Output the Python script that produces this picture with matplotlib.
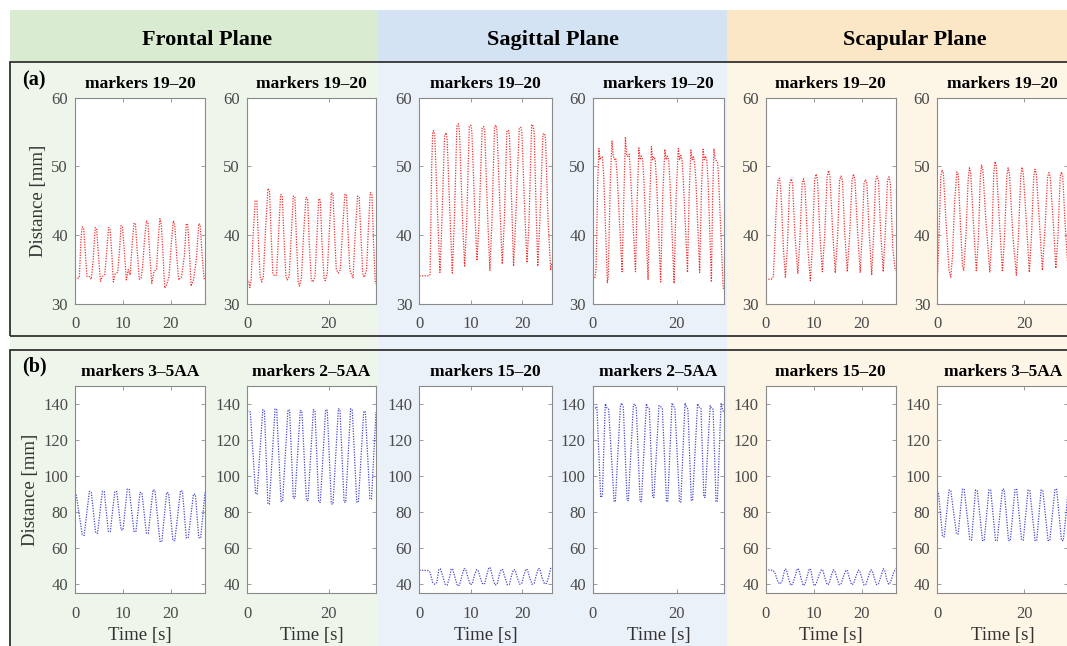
import matplotlib
matplotlib.use('Agg')
import matplotlib.pyplot as plt
from matplotlib.patches import Rectangle

plt.rcParams.update({
    'font.family': ['Liberation Serif', 'DejaVu Serif'],
    'font.size': 10.5,
    'axes.linewidth': 0.8,
    'axes.edgecolor': '#8a8a8a',
})

# ---- data: (a) row, distance markers 19-20 [mm] ----
a1_t = [0.0, 0.9, 1.25, 1.5, 1.8, 2.1, 2.5, 3.0, 3.4, 3.8, 4.2, 4.5, 4.9, 5.3, 5.7, 6.2, 6.6, 7.0, 7.3, 7.7,
        8.0, 8.4, 8.9, 9.3, 9.6, 9.9, 10.3, 10.7, 11.1, 11.5, 11.9, 12.3, 12.6, 13.0, 13.4, 13.8, 14.1, 14.5,
        14.9, 15.2, 15.6, 16.0, 16.5, 17.0, 17.4, 17.7, 18.0, 18.4, 18.7, 19.1, 19.6, 20.1, 20.5, 20.8, 21.2,
        21.6, 22.2, 22.8, 23.2, 23.5, 23.9, 24.2, 24.7, 25.3, 25.8, 26.1, 26.5, 26.9, 27.1]
a1_v = [33.7, 33.8, 39.5, 41.2, 41.1, 38.0, 34.0, 34.0, 33.6, 36.5, 41.1, 41.0, 37.0, 33.3, 34.0, 34.3, 37.5,
        41.1, 41.0, 37.0, 33.2, 34.4, 34.6, 38.0, 41.4, 41.2, 37.5, 33.5, 35.0, 34.2, 38.5, 41.8, 41.6, 37.5,
        33.6, 33.8, 35.5, 39.5, 42.1, 41.8, 37.0, 33.0, 34.8, 35.0, 40.0, 42.4, 41.5, 36.5, 32.3, 32.8, 34.0,
        39.0, 42.1, 41.5, 37.0, 33.5, 33.9, 37.0, 41.7, 41.5, 37.0, 32.6, 33.5, 36.5, 41.7, 41.5, 37.0, 33.7, 33.7]

a2_t = [0.0, 0.4, 0.7, 1.0, 1.5, 2.0, 2.4, 2.8, 3.2, 3.6, 4.0, 4.5, 5.1, 5.5, 5.9, 6.3, 6.7, 7.2, 7.7, 8.2,
        8.6, 9.0, 9.5, 9.8, 10.3, 10.8, 11.3, 11.7, 12.1, 12.5, 12.8, 13.3, 13.8, 14.4, 14.8, 15.2, 15.7,
        16.1, 16.6, 17.1, 17.5, 17.9, 18.3, 18.8, 19.1, 19.6, 20.1, 20.6, 21.0, 21.4, 21.8, 22.3, 22.8, 23.3,
        23.9, 24.3, 24.7, 25.1, 25.5, 25.9, 26.4, 27.0, 27.4, 27.8, 28.3, 28.7, 29.2, 29.6, 30.1, 30.5, 30.9,
        31.3, 31.5]
a2_v = [33.5, 33.4, 32.4, 33.5, 40.0, 45.0, 45.0, 39.0, 34.0, 33.2, 34.0, 40.5, 46.8, 46.5, 40.0, 34.5, 34.1,
        34.2, 40.0, 45.9, 45.8, 40.0, 34.0, 33.5, 34.0, 40.0, 45.7, 45.6, 39.0, 33.3, 32.6, 33.8, 40.0, 45.5,
        45.3, 39.0, 33.5, 33.2, 34.0, 40.0, 45.3, 45.1, 39.0, 33.8, 33.4, 34.5, 40.5, 46.2, 46.0, 40.0, 35.0,
        34.5, 35.0, 40.5, 46.0, 45.8, 40.0, 35.0, 34.3, 33.8, 40.0, 45.7, 45.5, 40.0, 34.2, 33.9, 35.0, 40.5,
        46.2, 46.0, 39.0, 33.3, 32.9]

a3_t = [0.0, 1.9, 2.1, 2.4, 2.6, 2.8, 3.0, 3.6, 4.0, 4.3, 4.9, 5.2, 5.4, 6.0, 6.4, 6.8, 7.3, 7.6, 7.8, 8.4,
        8.8, 9.2, 9.7, 10.0, 10.2, 10.8, 11.2, 11.6, 12.2, 12.5, 12.7, 13.3, 13.7, 14.1, 14.6, 14.9, 15.1,
        15.7, 16.1, 16.5, 17.0, 17.3, 17.5, 18.0, 18.3, 18.7, 19.4, 19.7, 19.9, 20.5, 20.9, 21.3, 21.8, 22.0,
        22.3, 22.7, 23.0, 23.4, 24.0, 24.3, 24.5, 25.0, 25.5, 25.7]
a3_v = [34.1, 34.1, 34.3, 50.0, 55.0, 55.2, 54.5, 42.0, 34.6, 40.0, 54.5, 54.9, 54.0, 42.0, 34.5, 42.0, 56.0,
        56.2, 55.0, 42.0, 35.4, 42.0, 55.8, 56.0, 55.0, 43.0, 36.3, 42.0, 55.6, 55.8, 55.0, 42.0, 34.9, 42.0,
        55.8, 56.0, 55.0, 43.0, 35.8, 42.0, 55.1, 55.3, 54.5, 43.0, 35.5, 42.0, 55.5, 55.7, 55.0, 43.0, 36.0,
        42.0, 56.0, 56.1, 55.0, 43.0, 35.5, 42.0, 54.7, 54.8, 54.0, 42.0, 34.9, 36.0]

a4_t = [0.0, 0.5, 0.8, 1.2, 1.5, 1.7, 2.0, 2.3, 2.6, 3.5, 3.7, 4.2, 4.6, 4.9, 5.2, 5.5, 5.8, 7.0, 7.4, 7.8,
        8.1, 8.4, 8.7, 9.0, 10.2, 10.6, 11.0, 11.3, 11.6, 11.9, 12.2, 13.2, 13.6, 14.0, 14.3, 14.6, 14.9,
        15.2, 16.2, 16.7, 17.2, 17.5, 17.8, 18.1, 18.4, 19.4, 19.9, 20.4, 20.7, 21.0, 21.3, 21.6, 22.6, 23.0,
        23.4, 23.7, 24.0, 24.3, 24.6, 25.5, 25.9, 26.3, 26.6, 26.9, 27.2, 27.5, 28.3, 28.6, 28.9, 29.2, 29.5,
        29.8, 30.1, 31.1, 31.3]
a4_v = [33.7, 33.7, 35.0, 48.0, 52.6, 51.0, 51.3, 51.4, 49.0, 33.1, 34.0, 48.0, 53.7, 51.5, 51.0, 51.2, 49.0,
        34.7, 45.0, 54.3, 51.5, 51.5, 51.8, 49.0, 34.7, 45.0, 52.7, 51.0, 51.5, 51.0, 48.0, 33.5, 45.0, 52.9,
        51.0, 51.4, 51.0, 48.0, 33.2, 46.0, 52.5, 51.0, 51.5, 51.0, 48.0, 33.0, 46.0, 52.6, 51.0, 51.6, 51.0,
        48.0, 34.6, 46.0, 52.4, 51.0, 51.4, 50.5, 48.0, 34.6, 46.0, 52.5, 51.0, 51.5, 50.8, 48.0, 33.2, 46.0,
        52.6, 51.0, 50.8, 50.5, 47.0, 32.3, 32.3]

a5_t = [0.0, 1.2, 1.6, 2.2, 2.6, 2.9, 3.2, 3.7, 4.1, 4.5, 5.0, 5.3, 5.6, 6.1, 6.7, 7.1, 7.6, 7.9, 8.2, 8.8,
        9.3, 9.7, 10.2, 10.5, 10.8, 11.3, 11.8, 12.3, 12.8, 13.1, 13.4, 14.0, 14.5, 15.0, 15.4, 15.7, 16.0,
        16.5, 17.0, 17.5, 18.0, 18.3, 18.6, 19.2, 19.7, 20.1, 20.5, 20.8, 21.1, 21.6, 22.1, 22.5, 22.9, 23.2,
        23.5, 24.0, 24.5, 24.9, 25.4, 25.7, 26.0, 26.5, 27.0, 27.1]
a5_v = [33.6, 33.6, 34.0, 44.0, 48.2, 48.3, 46.0, 38.0, 33.9, 38.0, 47.5, 48.2, 47.5, 40.0, 34.4, 39.0, 47.5,
        48.2, 47.0, 38.0, 33.4, 38.0, 48.0, 48.9, 48.0, 40.0, 34.7, 40.0, 48.5, 49.4, 48.5, 40.0, 34.5, 40.0,
        48.0, 48.6, 48.0, 40.0, 34.7, 40.0, 48.0, 48.9, 48.0, 40.0, 34.6, 40.0, 47.5, 48.1, 47.5, 40.0, 34.2,
        40.0, 48.0, 48.6, 48.0, 40.0, 34.7, 40.0, 48.0, 48.5, 47.5, 38.0, 34.9, 34.9]

a6_t = [0.0, 0.3, 0.8, 1.1, 1.4, 2.0, 2.7, 3.1, 3.5, 4.0, 4.5, 4.8, 5.3, 5.8, 6.1, 6.6, 7.1, 7.4, 7.7, 8.3,
        9.0, 9.5, 9.9, 10.2, 10.5, 11.2, 12.1, 12.6, 13.0, 13.3, 13.6, 14.3, 15.0, 15.5, 16.0, 16.3, 16.6,
        17.4, 18.2, 18.7, 19.2, 19.5, 19.8, 20.5, 21.2, 21.7, 22.2, 22.5, 22.8, 23.5, 24.2, 24.8, 25.4, 25.7,
        26.0, 26.7, 27.3, 27.8, 28.3, 28.6, 28.9, 29.4, 30.0]
a6_v = [33.5, 38.0, 48.5, 49.5, 49.0, 42.0, 35.0, 33.9, 37.0, 45.0, 49.2, 49.0, 42.0, 35.5, 34.9, 40.0, 48.0,
        49.8, 49.0, 42.0, 34.7, 40.0, 48.5, 50.2, 49.5, 42.0, 34.6, 40.0, 49.0, 50.7, 50.0, 42.0, 34.7, 40.0,
        48.5, 49.8, 49.0, 40.0, 34.2, 40.0, 48.5, 49.9, 49.0, 42.0, 34.6, 40.0, 48.5, 49.6, 49.0, 42.0, 34.9,
        41.0, 48.5, 49.1, 48.5, 42.0, 35.2, 40.0, 48.5, 49.2, 48.5, 42.0, 36.0]

# ---- (b) row, distances between other marker pairs [mm] ----
b1_t = [0.0, 0.3, 1.5, 1.9, 3.0, 3.4, 4.3, 4.7, 5.7, 6.1, 6.95, 7.35, 8.3, 8.7, 9.6, 10.0, 10.9, 11.3, 12.3,
        12.7, 13.55, 13.95, 14.87, 15.27, 16.26, 16.66, 17.7, 18.1, 19.1, 19.5, 20.4, 20.8, 22.0, 22.4, 23.2,
        23.6, 24.7, 25.1, 25.8, 26.2, 27.1]
b1_v = [91.0, 89.0, 67.5, 67.0, 91.5, 91.0, 68.5, 68.3, 91.5, 91.3, 69.3, 69.1, 91.5, 91.3, 70.2, 70.0, 92.8,
        92.5, 69.3, 69.1, 90.9, 90.7, 68.3, 68.1, 92.4, 92.0, 63.8, 63.5, 90.9, 90.5, 64.3, 64.1, 91.9, 91.5,
        65.8, 65.6, 90.0, 89.8, 65.8, 65.6, 90.9]

b2_t = [0.0, 0.8, 2.1, 2.45, 3.85, 4.25, 5.1, 5.45, 6.85, 7.25, 8.3, 8.7, 10.0, 10.4, 11.3, 11.7, 13.0, 13.4,
        14.5, 14.9, 16.2, 16.6, 17.5, 17.9, 19.2, 19.6, 20.6, 21.0, 22.3, 22.7, 23.7, 24.1, 25.3, 25.7, 26.8,
        27.2, 28.5, 28.9, 30.0, 30.4, 31.5]
b2_v = [136.0, 135.5, 90.2, 90.0, 136.7, 136.3, 84.6, 84.4, 137.2, 136.8, 86.0, 85.9, 136.7, 136.4, 87.8,
        87.6, 136.3, 136.0, 86.5, 86.3, 136.7, 136.3, 85.6, 85.4, 136.7, 136.4, 84.6, 84.4, 137.2, 136.8, 85.6,
        85.4, 137.2, 136.8, 85.6, 85.4, 135.9, 135.5, 87.4, 87.2, 135.4]

b3_t = [0.0, 1.7, 2.1, 2.6, 3.0, 3.4, 3.8, 4.1, 4.5, 5.0, 5.4, 5.8, 6.2, 6.5, 7.0, 7.4, 7.8, 8.3, 8.7, 9.0,
        9.5, 9.9, 10.3, 10.7, 11.1, 11.4, 11.9, 12.3, 12.7, 13.1, 13.5, 13.8, 14.3, 14.7, 15.1, 15.5, 15.9,
        16.2, 16.7, 17.1, 17.5, 17.9, 18.3, 18.6, 19.1, 19.5, 19.9, 20.3, 20.7, 21.0, 21.5, 21.9, 22.3, 22.7,
        23.1, 23.4, 23.9, 24.3, 24.7, 25.1, 25.5, 25.7]
b3_v = [47.8, 47.6, 46.5, 41.0, 40.0, 41.0, 48.3, 48.5, 45.0, 40.0, 39.5, 43.0, 48.6, 48.2, 43.0, 39.2, 39.5,
        45.0, 48.7, 48.5, 43.0, 39.8, 40.2, 45.0, 48.0, 47.8, 43.0, 40.0, 40.5, 45.0, 49.3, 49.0, 43.0, 39.6,
        40.0, 45.0, 48.3, 48.0, 43.0, 39.7, 40.0, 45.0, 48.1, 47.8, 43.0, 40.0, 40.5, 45.0, 48.4, 48.0, 43.0,
        40.0, 40.5, 45.0, 48.8, 48.5, 43.0, 40.2, 40.5, 44.0, 48.8, 48.8]

b4_t = [0.0, 0.6, 1.0, 1.9, 2.3, 3.0, 3.4, 3.8, 5.1, 5.4, 6.6, 6.9, 7.3, 8.2, 8.5, 9.7, 10.0, 10.4, 11.3,
        11.6, 12.8, 13.1, 13.5, 14.3, 14.6, 15.8, 16.2, 16.6, 17.6, 17.9, 18.9, 19.2, 19.6, 20.7, 21.0, 22.0,
        22.3, 22.7, 23.5, 23.8, 25.0, 25.4, 25.8, 26.5, 26.8, 28.0, 28.3, 28.7, 29.4, 29.7, 30.6, 31.0, 31.3]
b4_v = [138.0, 137.5, 138.5, 88.1, 89.0, 140.0, 137.5, 137.0, 86.0, 85.7, 139.0, 140.4, 138.0, 86.5, 86.3,
        139.5, 140.0, 137.5, 86.0, 85.7, 140.0, 138.0, 137.5, 88.3, 88.1, 139.0, 138.5, 137.0, 86.0, 85.7,
        140.4, 139.0, 137.5, 85.6, 85.4, 140.4, 138.5, 137.0, 86.5, 86.3, 140.0, 138.0, 137.5, 88.3, 88.1,
        139.0, 137.5, 137.0, 85.9, 85.7, 140.0, 136.5, 135.0]

b5_t = [0.0, 1.5, 1.9, 2.6, 3.0, 3.4, 4.0, 4.3, 4.8, 5.2, 5.6, 6.2, 6.6, 6.9, 7.4, 7.8, 8.2, 8.7, 9.1, 9.4,
        9.8, 10.1, 10.5, 11.1, 11.6, 11.9, 12.4, 12.8, 13.2, 13.7, 14.1, 14.4, 14.9, 15.3, 15.7, 16.3, 16.7,
        17.0, 17.5, 17.9, 18.3, 18.9, 19.3, 19.6, 20.1, 20.5, 20.9, 21.5, 21.9, 22.2, 22.7, 23.1, 23.5, 24.1,
        24.5, 24.8, 25.2, 25.6, 26.0, 26.6, 27.1]
b5_v = [48.0, 47.8, 46.5, 41.0, 40.2, 41.5, 48.5, 48.2, 43.0, 39.5, 40.0, 45.0, 48.7, 48.2, 43.0, 39.3, 40.0,
        45.0, 48.6, 48.0, 42.0, 39.2, 40.0, 45.0, 48.0, 47.8, 43.0, 39.8, 40.2, 45.0, 48.0, 47.5, 43.0, 39.8,
        40.2, 45.0, 47.8, 47.5, 43.0, 39.8, 40.2, 45.0, 47.8, 47.5, 43.0, 39.5, 40.0, 45.0, 48.0, 47.6, 43.0,
        39.8, 40.2, 45.0, 48.6, 48.0, 43.0, 40.0, 41.0, 46.0, 48.7]

b6_t = [0.0, 0.3, 1.2, 1.6, 2.7, 3.1, 4.4, 4.8, 5.8, 6.2, 7.5, 7.9, 8.8, 9.2, 10.4, 10.8, 11.9, 12.3, 13.4,
        13.8, 15.0, 15.4, 16.4, 16.8, 17.9, 18.3, 19.4, 19.8, 20.9, 21.3, 22.5, 22.9, 23.9, 24.3, 25.5, 25.9,
        27.1, 27.5, 28.6, 29.0, 29.7, 30.1]
b6_v = [91.9, 90.0, 66.5, 66.3, 92.2, 92.0, 68.0, 67.8, 92.8, 92.5, 64.6, 64.4, 92.2, 92.0, 64.3, 64.1, 92.4,
        92.2, 64.3, 64.1, 92.8, 92.6, 64.3, 64.1, 92.8, 92.5, 64.6, 64.4, 92.2, 92.0, 64.3, 64.1, 92.2, 92.0,
        64.3, 64.1, 92.8, 92.5, 64.3, 64.1, 80.0, 92.0]

planes = ['Frontal Plane', 'Sagittal Plane', 'Scapular Plane']
titles_a = ['markers 19–20'] * 6
titles_b = ['markers 3–5AA', 'markers 2–5AA', 'markers 15–20', 'markers 2–5AA', 'markers 15–20', 'markers 3–5AA']
series_a = [(a1_t, a1_v), (a2_t, a2_v), (a3_t, a3_v), (a4_t, a4_v), (a5_t, a5_v), (a6_t, a6_v)]
series_b = [(b1_t, b1_v), (b2_t, b2_v), (b3_t, b3_v), (b4_t, b4_v), (b5_t, b5_v), (b6_t, b6_v)]
xmax = [27.1, 31.5, 25.7, 31.3, 27.1, 30.1]
xticks = [[0, 10, 20], [0, 20], [0, 10, 20], [0, 20], [0, 10, 20], [0, 20]]

# ---- layout in pixels ----
W, H = 1067, 646
fig = plt.figure(figsize=(W / 100, H / 100), dpi=100)


def fbox(x0, y0, x1, y1):
    # pixel box (top-left origin) -> figure fraction
    return [x0 / W, 1 - y1 / H, (x1 - x0) / W, (y1 - y0) / H]


def frect(x0, y0, x1, y1, **kw):
    l, b, w, h = fbox(x0, y0, x1, y1)
    fig.patches.append(Rectangle((l, b), w, h, transform=fig.transFigure, **kw))


col_x = [(10, 378), (378, 727), (727, 1080)]
head_col = ['#d9ecd2', '#d4e3f3', '#fbe7c6']
body_col = ['#eef6eb', '#ebf1f9', '#fdf5e6']
head_x = [207, 553, 915]
for (x0, x1), hc, bc, name, hx in zip(col_x, head_col, body_col, planes, head_x):
    frect(x0, 10, x1, 62, facecolor=hc, edgecolor='none', zorder=-3)
    frect(x0, 62, x1, 660, facecolor=bc, edgecolor='none', zorder=-3)
    fig.text(hx / W, 1 - 40 / H, name, ha='center', va='center', fontsize=16, fontweight='bold')

frect(10, 62, 1090, 336, facecolor='none', edgecolor='#333333', lw=1.3, zorder=-2)
frect(10, 350, 1090, 660, facecolor='none', edgecolor='#333333', lw=1.3, zorder=-2)
fig.text(22 / W, 1 - 80 / H, '(a)', ha='left', va='center', fontsize=14.5, fontweight='bold')
fig.text(22 / W, 1 - 366 / H, '(b)', ha='left', va='center', fontsize=14.5, fontweight='bold')

lefts = [75, 247, 419.3, 592.7, 765.7, 937.3]
rights = [205, 376, 551.7, 724, 895.7, 1068]


def style(ax, xm, xt):
    ax.set_xlim(0, xm)
    ax.set_xticks(xt)
    ax.tick_params(direction='in', length=3, width=0.6, top=True, right=True,
                   color='#8a8a8a', labelcolor='#4a4a4a', labelsize=12)
    ax.tick_params(axis='y', pad=5)
    ax.tick_params(axis='x', pad=9)
    ax.set_facecolor('white')


for i in range(6):
    ax = fig.add_axes(fbox(lefts[i], 97.7, rights[i], 304))
    t, v = series_a[i]
    ax.plot(t, v, color='#f03030', lw=0.9, ls=(0, (1, 1.1)))
    ax.set_ylim(30, 60)
    ax.set_yticks([30, 40, 50, 60])
    style(ax, xmax[i], xticks[i])
    ax.set_title(titles_a[i], fontsize=12.5, fontweight='bold', pad=7)
    if i == 0:
        ax.set_ylabel('Distance [mm]', fontsize=13.5, color='#333333', labelpad=3)

for i in range(6):
    ax = fig.add_axes(fbox(lefts[i], 385.7, rights[i], 593.3))
    t, v = series_b[i]
    ax.plot(t, v, color='#4646d2', lw=0.9, ls=(0, (1, 1.1)))
    ax.set_ylim(35, 150)
    ax.set_yticks([40, 60, 80, 100, 120, 140])
    style(ax, xmax[i], xticks[i])
    ax.set_title(titles_b[i], fontsize=12.5, fontweight='bold', pad=7)
    ax.set_xlabel('Time [s]', fontsize=13.5, color='#333333', labelpad=4)
    if i == 0:
        ax.set_ylabel('Distance [mm]', fontsize=13.5, color='#333333', labelpad=3)

fig.savefig('out.png', dpi=100)
